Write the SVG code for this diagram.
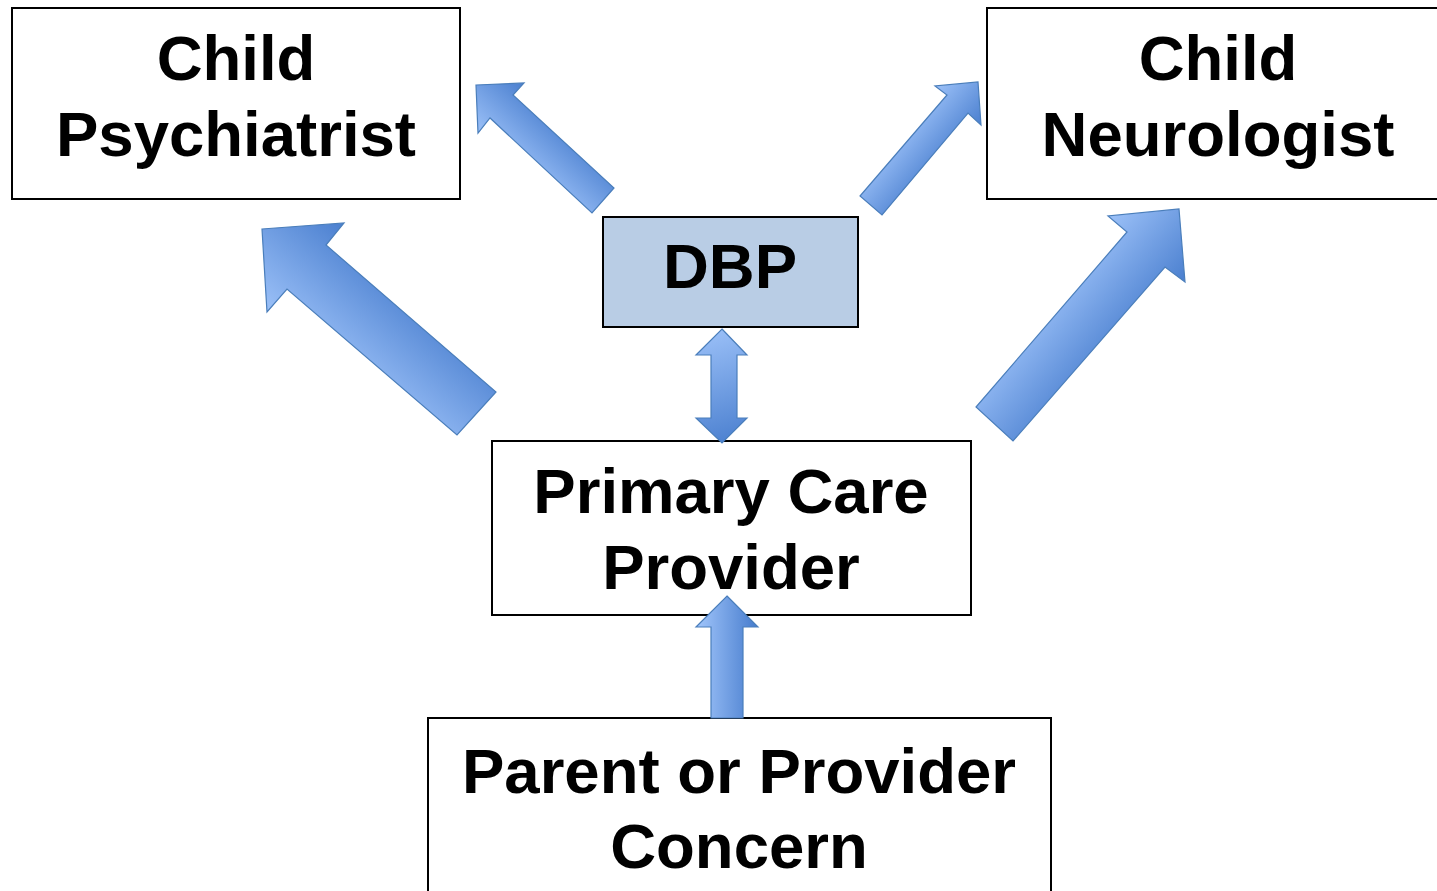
<svg xmlns="http://www.w3.org/2000/svg" width="1437" height="891" viewBox="0 0 1437 891">
<style>
.box{fill:#ffffff;stroke:#000000;stroke-width:2}
.dbp{fill:#b9cde5;stroke:#000000;stroke-width:2}
.lbl{font-family:"Liberation Sans",Arial,sans-serif;font-weight:bold;font-size:63.5px;fill:#000000;text-anchor:middle}
.arr{stroke:#4a7ebb;stroke-width:1.2;stroke-linejoin:miter}
</style>
<defs>
<linearGradient id="g1" gradientUnits="userSpaceOnUse" x1="478" y1="133" x2="524" y2="83"><stop offset="0" stop-color="#9cc1f8"/><stop offset="1" stop-color="#4a7fcf"/></linearGradient>
<linearGradient id="g2" gradientUnits="userSpaceOnUse" x1="267" y1="312" x2="344" y2="223"><stop offset="0" stop-color="#9cc1f8"/><stop offset="1" stop-color="#4a7fcf"/></linearGradient>
<linearGradient id="g3" gradientUnits="userSpaceOnUse" x1="935" y1="86" x2="981" y2="125"><stop offset="0" stop-color="#9cc1f8"/><stop offset="1" stop-color="#4a7fcf"/></linearGradient>
<linearGradient id="g4" gradientUnits="userSpaceOnUse" x1="1108" y1="216" x2="1185" y2="282"><stop offset="0" stop-color="#9cc1f8"/><stop offset="1" stop-color="#4a7fcf"/></linearGradient>
<linearGradient id="g5" gradientUnits="userSpaceOnUse" x1="705" y1="329" x2="740" y2="443"><stop offset="0" stop-color="#9cc1f8"/><stop offset="1" stop-color="#4a7fcf"/></linearGradient>
<linearGradient id="g6" gradientUnits="userSpaceOnUse" x1="700" y1="0" x2="755" y2="0"><stop offset="0" stop-color="#9cc1f8"/><stop offset="1" stop-color="#4a7fcf"/></linearGradient>
</defs>
<g id="node-psychiatrist">
<rect class="box" x="12" y="8" width="448" height="191"/>
<text class="lbl" x="236" y="80">Child</text>
<text class="lbl" x="236" y="156">Psychiatrist</text>
</g>
<g id="node-neurologist">
<rect class="box" x="987" y="8" width="462" height="191"/>
<text class="lbl" x="1218" y="80">Child</text>
<text class="lbl" x="1218" y="156">Neurologist</text>
</g>
<g id="node-dbp">
<rect class="dbp" x="603" y="217" width="255" height="110"/>
<text class="lbl" x="730" y="288">DBP</text>
</g>
<g id="node-pcp">
<rect class="box" x="492" y="441" width="479" height="174"/>
<text class="lbl" x="731" y="513">Primary Care</text>
<text class="lbl" x="731" y="589">Provider</text>
</g>
<g id="node-concern">
<rect class="box" x="428" y="718" width="623" height="190"/>
<text class="lbl" x="739" y="793">Parent or Provider</text>
<text class="lbl" x="739" y="868">Concern</text>
</g>
<g id="connectors">
<polygon class="arr" fill="url(#g1)" points="476,85 524,83 513,95 614,188 592,213 490,118 478,133"/>
<polygon class="arr" fill="url(#g2)" points="262,229 344,223 326,245 496,392 457,435 287,289 267,312"/>
<polygon class="arr" fill="url(#g3)" points="978,82 981,125 968,113 882,215 860,196 947,95 935,86"/>
<polygon class="arr" fill="url(#g4)" points="1179,209 1185,282 1165,267 1013,441 976,407 1127,232 1108,216"/>
<polygon class="arr" fill="url(#g5)" points="722,329 747,355 737,355 737,418 747,418 722,443 696,418 711,418 711,355 696,355"/>
<polygon class="arr" fill="url(#g6)" points="727,596 758,627 743,627 743,718 711,718 711,627 696,627"/>
</g>
</svg>
